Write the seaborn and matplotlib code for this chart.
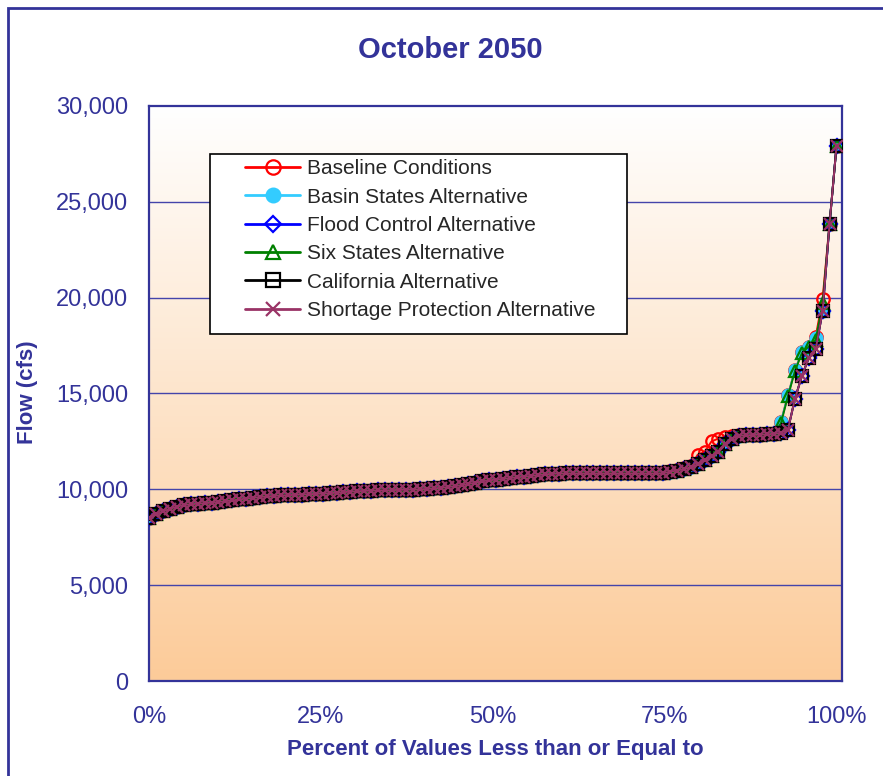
import numpy as np
import pandas as pd
import matplotlib
matplotlib.use("Agg")
import matplotlib.pyplot as plt
import seaborn as sns
from matplotlib.patches import Rectangle
from matplotlib.ticker import FuncFormatter, FixedLocator

# ---------------- data ----------------
title = "October 2050"
x_label = "Percent of Values Less than or Equal to"
y_label = "Flow (cfs)"

series_names = [
    "Baseline Conditions",
    "Basin States Alternative",
    "Flood Control Alternative",
    "Six States Alternative",
    "California Alternative",
    "Shortage Protection Alternative",
]

# sorted flows shared by all series (ranks 0..74)
common_flow = [
    8500, 8700, 8850, 8980, 9100, 9180, 9220, 9250, 9280, 9300,
    9340, 9380, 9420, 9470, 9520, 9560, 9600, 9630, 9660, 9680,
    9700, 9710, 9730, 9750, 9760, 9780, 9800, 9820, 9850, 9880,
    9900, 9920, 9930, 9940, 9950, 9960, 9970, 9980, 9990, 10000,
    10020, 10050, 10080, 10120, 10160, 10220, 10280, 10350, 10420, 10470,
    10510, 10550, 10590, 10630, 10660, 10700, 10740, 10780, 10810, 10820,
    10830, 10830, 10830, 10830, 10830, 10830, 10830, 10830, 10830, 10830,
    10830, 10830, 10830, 10830, 10840,
]

# upper ranks 75..99 of each series
baseline_tail = [10960, 11020, 11100, 11200, 11800, 11950, 12500, 12650, 12750, 12800,
                 12810, 12820, 12840, 12850, 12870, 12900, 13530, 14900, 16200, 17140,
                 17450, 17950, 19950, 23850, 27900]
basin_tail = [10920, 10980, 11050, 11150, 11300, 11550, 11750, 11950, 12350, 12650,
              12800, 12820, 12840, 12850, 12870, 12900, 13530, 14900, 16200, 17140,
              17450, 17900, 19300, 23850, 27900]
flood_tail = [10920, 10980, 11050, 11150, 11300, 11550, 11750, 11950, 12350, 12650,
              12800, 12820, 12840, 12850, 12870, 12900, 12950, 13100, 14700, 15900,
              16850, 17300, 19300, 23850, 27900]
six_tail = [10920, 10980, 11050, 11150, 11300, 11550, 11750, 11950, 12350, 12650,
            12800, 12820, 12840, 12850, 12870, 12900, 13450, 14850, 16150, 17100,
            17450, 17800, 19700, 23850, 27900]
california_tail = [10920, 10980, 11050, 11150, 11300, 11550, 11750, 11950, 12350, 12650,
                   12800, 12820, 12840, 12850, 12870, 12900, 12950, 13100, 14700, 15900,
                   16850, 17300, 19300, 23850, 27900]
shortage_tail = [10920, 10980, 11050, 11150, 11300, 11550, 11750, 11950, 12350, 12650,
                 12800, 12820, 12840, 12850, 12870, 12900, 12950, 13100, 14700, 15900,
                 16850, 17300, 19300, 23850, 27900]

tails = [baseline_tail, basin_tail, flood_tail, six_tail, california_tail, shortage_tail]

y_ticks = [0, 5000, 10000, 15000, 20000, 25000, 30000]
x_ticks = [0, 0.25, 0.5, 0.75, 1.0]

# ---------------- styles ----------------
navy = "#333399"
styles = [
    dict(color="#FF0000", marker="o", mfc="none", mec="#FF0000", ms=9.0),
    dict(color="#33CCFF", marker="o", mfc="#33CCFF", mec="#33CCFF", ms=8.6),
    dict(color="#0000FF", marker="D", mfc="none", mec="#0000FF", ms=7.0),
    dict(color="#008000", marker="^", mfc="none", mec="#008000", ms=9.0),
    dict(color="#000000", marker="s", mfc="none", mec="#000000", ms=8.4),
    dict(color="#993366", marker="x", mfc="none", mec="#993366", ms=8.4),
]

sns.set_theme(style="white")
plt.rcParams["font.family"] = ["Liberation Sans", "DejaVu Sans"]

W, H = 883, 776
fig = plt.figure(figsize=(W / 100, H / 100), dpi=100)
fig.patch.set_facecolor("white")

L, R, T, B = 149, 842, 106, 681
ax = fig.add_axes([L / W, 1 - B / H, (R - L) / W, (B - T) / H])

# gradient plot-area background
grad = np.linspace(0, 1, 256).reshape(-1, 1)
top_c = np.array([1.0, 1.0, 1.0])
bot_c = np.array([252, 203, 153]) / 255.0
img = top_c[None, None, :] * (1 - grad[:, :, None]) + bot_c[None, None, :] * grad[:, :, None]
ax.imshow(img, extent=[0, 1, 0, 1], transform=ax.transAxes, aspect="auto", zorder=0)

n = len(common_flow) + len(baseline_tail)
pct = np.arange(n) / (n - 1)

for name, tail, st in zip(series_names, tails, styles):
    vals = np.array(common_flow + tail, dtype=float)
    df = pd.DataFrame({"pct": pct, "flow": vals})
    sns.lineplot(data=df, x="pct", y="flow", ax=ax, sort=False, label=name,
                 color=st["color"], lw=1.4, marker=st["marker"],
                 markersize=st["ms"], markerfacecolor=st["mfc"],
                 markeredgecolor=st["mec"], markeredgewidth=1.6, zorder=3)

ax.set_xlim(0, 1.008)
ax.set_ylim(0, 30000)
ax.yaxis.set_major_locator(FixedLocator(y_ticks))
ax.xaxis.set_major_locator(FixedLocator(x_ticks))
ax.yaxis.set_major_formatter(FuncFormatter(lambda v, p: f"{int(v):,}"))
ax.xaxis.set_major_formatter(FuncFormatter(lambda v, p: f"{int(round(v * 100))}%"))
ax.set_xlabel("")
ax.set_ylabel("")

ax.grid(False)
for yv in y_ticks[1:-1]:
    ax.axhline(yv, color="#4444AA", lw=1.0, zorder=1)

for s in ax.spines.values():
    s.set_color(navy)
    s.set_linewidth(1.6)
    s.set_visible(True)

ax.tick_params(axis="both", which="major", direction="out", length=6,
               width=1.2, color=navy, labelcolor=navy, labelsize=17)
ax.tick_params(axis="y", pad=9)
ax.tick_params(axis="x", pad=12)

# legend box
box_l, box_t, box_r, box_b = 210, 154, 627, 334
ax.add_patch(Rectangle(((box_l - L) / (R - L), (B - box_b) / (B - T)),
                       (box_r - box_l) / (R - L), (box_b - box_t) / (B - T),
                       transform=ax.transAxes, facecolor="white",
                       edgecolor="black", lw=1.2, zorder=4))
leg = ax.legend(loc="upper left",
                bbox_to_anchor=((240 - L) / (R - L), (B - box_t) / (B - T)),
                borderaxespad=0, borderpad=0.25, frameon=False, fontsize=15,
                handlelength=2.65, handletextpad=0.3, labelspacing=0.45)
leg.set_zorder(5)
for line in leg.get_lines():
    line.set_linewidth(2.0)
    line.set_markersize(line.get_markersize() * 1.15)

fig.text(450 / W, 1 - 50 / H, title, ha="center", va="center",
         fontsize=21, fontweight="bold", color=navy)
fig.text(495 / W, 1 - 750 / H, x_label, ha="center", va="center",
         fontsize=16, fontweight="bold", color=navy)
fig.text(27 / W, 1 - 392 / H, y_label, ha="center", va="center", rotation=90,
         fontsize=16, fontweight="bold", color=navy)

# outer chart frame
fig.add_artist(Rectangle((8 / W, -0.1), 1.2, 1.1 - 8 / H, transform=fig.transFigure,
                         fill=False, edgecolor=navy, lw=2.0, clip_on=False))

fig.savefig("out.png", dpi=100, facecolor="white")
